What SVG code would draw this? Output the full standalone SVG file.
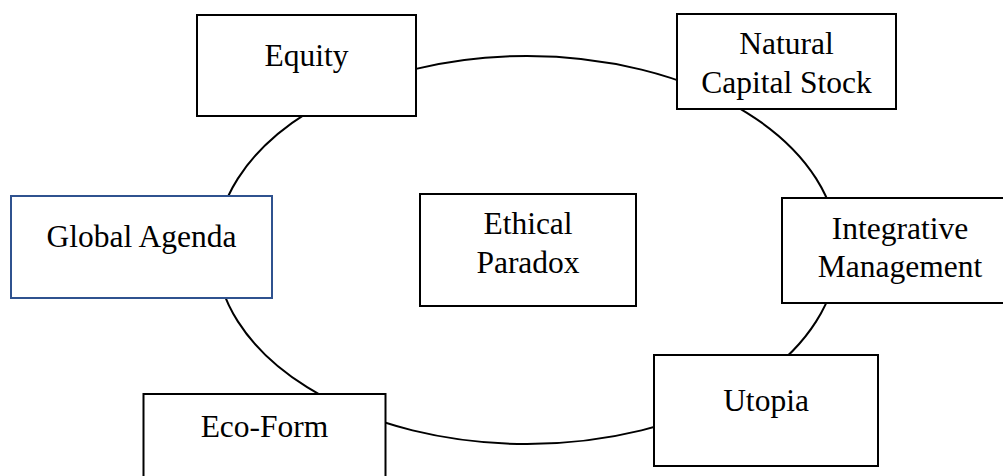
<svg xmlns="http://www.w3.org/2000/svg" width="1003" height="476" viewBox="0 0 1003 476">
<style>
.box{fill:#fff;stroke:#000;stroke-width:2}
.blue{stroke:#2F528F}
.lbl{font-family:"Liberation Serif","Times New Roman",serif;font-size:31.5px;fill:#000;text-anchor:middle}
.conn{fill:none;stroke:#000;stroke-width:2}
</style>
<rect width="1003" height="476" fill="#fff"/>
<g id="connectors">
<ellipse class="conn" cx="527" cy="250" rx="311" ry="194"/>
</g>
<g id="equity">
<rect class="box" x="197" y="15" width="219" height="101"/>
<text class="lbl" x="306.5" y="65.5">Equity</text>
</g>
<g id="natural-capital-stock">
<rect class="box" x="677" y="14" width="219" height="95"/>
<text class="lbl" x="786.5" y="54">Natural</text>
<text class="lbl" x="786.5" y="92.5">Capital Stock</text>
</g>
<g id="global-agenda">
<rect class="box blue" x="11" y="196" width="261" height="102"/>
<text class="lbl" x="141.5" y="247">Global Agenda</text>
</g>
<g id="ethical-paradox">
<rect class="box" x="420" y="194" width="216" height="112"/>
<text class="lbl" x="528" y="233.5">Ethical</text>
<text class="lbl" x="528" y="273">Paradox</text>
</g>
<g id="integrative-management">
<rect class="box" x="782" y="198" width="236" height="105"/>
<text class="lbl" x="900" y="238.5">Integrative</text>
<text class="lbl" x="900" y="276.5">Management</text>
</g>
<g id="utopia">
<rect class="box" x="654" y="355" width="224" height="111"/>
<text class="lbl" x="766" y="411">Utopia</text>
</g>
<g id="eco-form">
<rect class="box" x="143.5" y="394" width="242" height="100"/>
<text class="lbl" x="264.5" y="437">Eco-Form</text>
</g>
</svg>
